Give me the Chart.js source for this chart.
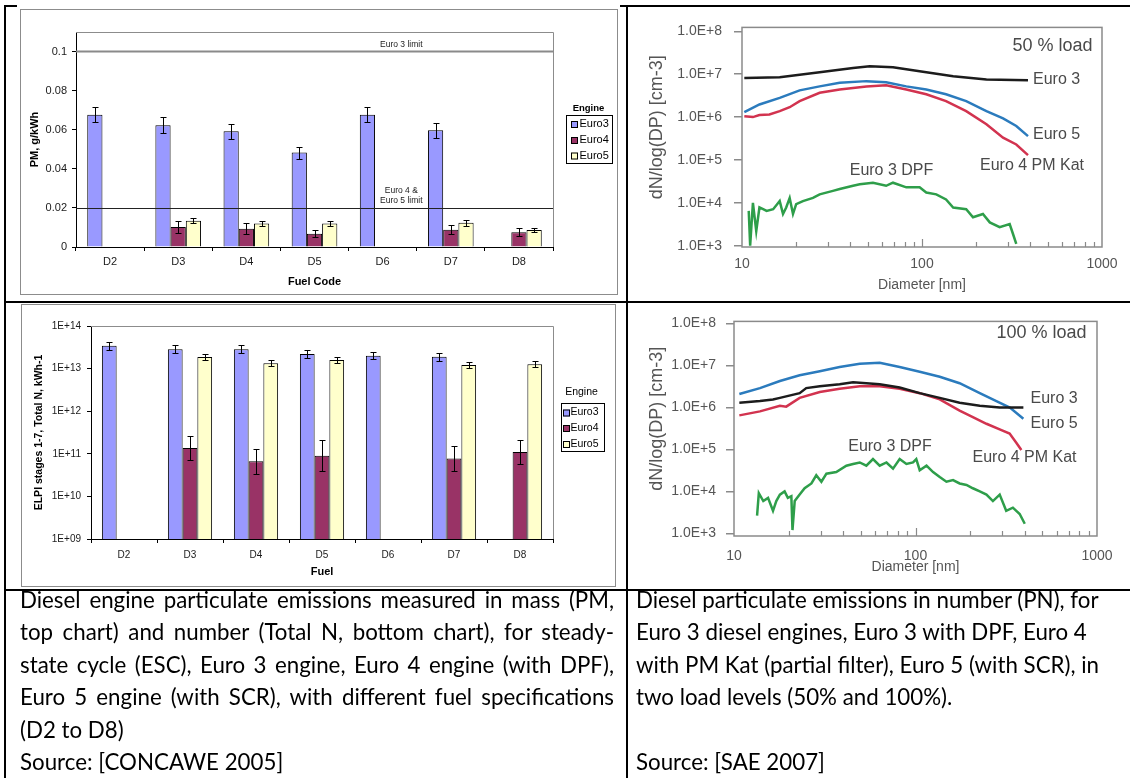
<!DOCTYPE html>
<html>
<head>
<meta charset="utf-8">
<script src="https://cdn.jsdelivr.net/npm/chart.js@4.4.1/dist/chart.umd.min.js"></script>
<style>
body { margin:0; background:#fff; width:1130px; height:778px; position:relative; overflow:hidden; }
.line { position:absolute; background:#000; }
.frame { position:absolute; border:1px solid #8c8c8c; box-sizing:border-box; }
canvas { position:absolute; }
.cap { position:absolute; font-family:Lato, "Open Sans", sans-serif; font-size:22.3px; color:#000; }
.cap div { height:32.4px; line-height:32.4px; }
.just { text-align:justify; text-align-last:justify; }
</style>
</head>
<body>
<div class="line" style="left:4px;top:5px;width:13px;height:2px"></div>
<div class="line" style="left:620px;top:5px;width:510px;height:2px"></div>
<div class="line" style="left:4px;top:5px;width:2px;height:773px"></div>
<div class="line" style="left:626px;top:5px;width:2px;height:773px"></div>
<div class="line" style="left:4px;top:301px;width:1126px;height:2px"></div>
<div class="line" style="left:4px;top:589px;width:1126px;height:2px"></div>

<div class="frame" style="left:20px;top:9px;width:598px;height:286px"></div>
<canvas id="c1" width="597" height="285" style="left:20px;top:9px"></canvas>
<div class="frame" style="left:21px;top:304px;width:595px;height:283px"></div>
<canvas id="c2" width="594" height="282" style="left:21px;top:304px"></canvas>
<canvas id="c3" width="502" height="293" style="left:628px;top:7px"></canvas>
<canvas id="c4" width="502" height="286" style="left:628px;top:303px"></canvas>

<div class="cap" style="left:20px;top:584px;width:594px">
  <div class="just">Diesel engine particulate emissions measured in mass (PM,</div>
  <div class="just">top chart) and number (Total N, bottom chart), for steady-</div>
  <div class="just">state cycle (ESC), Euro 3 engine, Euro 4 engine (with DPF),</div>
  <div class="just">Euro 5 engine (with SCR), with different fuel specifications</div>
  <div>(D2 to D8)</div>
  <div>Source: [CONCAWE 2005]</div>
</div>
<div class="cap" style="left:636px;top:584px;width:490px">
  <div>Diesel particulate emissions in number (PN), for</div>
  <div>Euro 3 diesel engines, Euro 3 with DPF, Euro 4</div>
  <div>with PM Kat (partial filter), Euro 5 (with SCR), in</div>
  <div>two load levels (50% and 100%).</div>
  <div>&nbsp;</div>
  <div>Source: [SAE 2007]</div>
</div>

<script>
// bar charts (CONCAWE 2005)
var fuels = ['D2', 'D3', 'D4', 'D5', 'D6', 'D7', 'D8'];
var engines = ['Euro3', 'Euro4', 'Euro5'];

var pmEuro3 = [0.0677, 0.0623, 0.0592, 0.0483, 0.0677, 0.0597, null];
var pmEuro4 = [null, 0.0102, 0.0094, 0.0068, null, 0.0088, 0.0076];
var pmEuro5 = [null, 0.0134, 0.0120, 0.0120, null, 0.0124, 0.0087];
var pmErr3 = [0.0040, 0.0041, 0.0038, 0.0031, 0.0040, 0.0037, null];
var pmErr4 = [null, 0.0029, 0.0027, 0.0019, null, 0.0024, 0.0021];
var pmErr5 = [null, 0.0012, 0.0014, 0.0014, null, 0.0014, 0.0009];
var pmTicks = [0, 0.02, 0.04, 0.06, 0.08, 0.1];
var pmLimits = [0.1, 0.02];

var nEuro3 = [3.45e13, 2.84e13, 2.84e13, 2.2e13, 2.0e13, 1.9e13, null];
var nEuro4 = [null, 1.37e11, 6.7e10, 9.0e10, null, 7.8e10, 1.1e11];
var nEuro5 = [null, 1.87e13, 1.33e13, 1.59e13, null, 1.22e13, 1.26e13];
var nErr3 = [1.25, 1.25, 1.25, 1.25, 1.22, 1.25, null];   // multiplicative
var nErr4 = [null, 1.95, 1.95, 2.3, null, 1.95, 1.95];
var nErr5 = [null, 1.18, 1.18, 1.18, null, 1.18, 1.18];
var nTicks = [1e9, 1e10, 1e11, 1e12, 1e13, 1e14];

// size distributions (SAE 2007)
var sizeSeries = ['Euro 3', 'Euro 5', 'Euro 4 PM Kat', 'Euro 3 DPF'];
var sizeTicks = [1e3, 1e4, 1e5, 1e6, 1e7, 1e8];
var diamTicks = [10, 100, 1000];
var diamMinor = [20, 30, 40, 50, 60, 70, 80, 90, 100, 200, 300, 400, 500, 600, 700, 800, 900];

var d50Black = [10.3, 16.2, 27, 41.4, 51.2, 69, 97, 149, 228, 388];
var v50Black = [8.2e6, 8.5e6, 1.11e7, 1.4e7, 1.53e7, 1.45e7, 1.17e7, 9.0e6, 7.5e6, 7.2e6];
var d50Blue = [10.3, 12.5, 16.2, 20.9, 27, 34.9, 49.1, 63.2, 81.8, 105.6, 136, 176, 228, 282, 334, 388];
var v50Blue = [1.3e6, 1.97e6, 2.8e6, 4.2e6, 5.2e6, 6.3e6, 6.9e6, 6.5e6, 5.2e6, 4.4e6, 3.4e6, 2.35e6, 1.38e6, 9.3e5, 6.2e5, 3.6e5];
var d50Red = [10.3, 11.5, 12.5, 14.2, 16.2, 18.4, 20.9, 27, 34.9, 49.1, 63.2, 81.8, 105.6, 136, 176, 228, 282, 334, 388];
var v50Red = [1.05e6, 1.0e6, 1.12e6, 1.15e6, 1.38e6, 1.7e6, 2.35e6, 3.7e6, 4.4e6, 5.2e6, 5.5e6, 4.4e6, 3.4e6, 2.35e6, 1.38e6, 6.8e5, 3.3e5, 2.3e5, 1.3e5];
var d50Green = [10.9, 11.1, 11.5, 12.0, 12.5, 13.1, 13.7, 14.9, 16.2, 16.9, 17.6, 18.4, 19.2, 20.0, 21.8, 24.8, 27, 32.0, 34.9, 41.4, 45.1, 53.4, 63.2, 69, 81.8, 97, 105.6, 120, 136, 149, 176, 192, 218, 238, 270, 307, 320, 334];
var v50Green = [6.5e3, 1.0e3, 1.0e4, 2.2e3, 7.8e3, 7.1e3, 6.5e3, 7.1e3, 1.1e4, 5.5e3, 7.8e3, 1.3e4, 5.5e3, 9.3e3, 1.1e4, 1.3e4, 1.58e4, 1.9e4, 2.1e4, 2.5e4, 2.7e4, 2.95e4, 2.5e4, 2.95e4, 2.3e4, 2.3e4, 1.74e4, 1.58e4, 1.2e4, 7.8e3, 7.1e3, 4.6e3, 5.5e3, 3.5e3, 2.7e3, 3.2e3, 1.9e3, 1.1e3];

var d100Black = [10.7, 13.9, 16.4, 17.9, 23, 25, 29.7, 38.2, 45.3, 63.5, 81.8, 105.5, 136, 175, 226, 291, 393];
var v100Black = [1.3e6, 1.43e6, 1.56e6, 1.7e6, 2.2e6, 2.9e6, 3.2e6, 3.6e6, 4.0e6, 3.6e6, 3.0e6, 2.2e6, 1.7e6, 1.3e6, 1.1e6, 1.0e6, 1.0e6];
var d100Blue = [10.7, 13.9, 17.9, 23, 29.7, 38.2, 49.3, 63.5, 81.8, 105.5, 136, 175, 226, 279, 331, 393];
var v100Blue = [2.1e6, 2.9e6, 4.3e6, 5.9e6, 7.3e6, 9.2e6, 1.1e7, 1.16e7, 9.2e6, 7.1e6, 5.4e6, 3.8e6, 2.2e6, 1.43e6, 1.0e6, 5.4e5];
var d100Red = [10.7, 13.9, 17.9, 19.4, 23, 29.7, 38.2, 49.3, 63.5, 81.8, 105.5, 136, 175, 207, 246, 291, 330, 360, 383];
var v100Red = [6.5e5, 8.1e5, 1.1e6, 1.05e6, 1.7e6, 2.35e6, 2.8e6, 3.2e6, 3.2e6, 2.8e6, 2.2e6, 1.56e6, 8.4e5, 5.9e5, 4.1e5, 3.0e5, 2.4e5, 1.43e5, 9.7e4];
var d100Green = [13.4, 13.7, 14.5, 15.4, 16.4, 17.1, 17.9, 19.0, 19.8, 20.7, 21.0, 21.6, 23.0, 24.5, 26.7, 28.4, 30.3, 32.3, 36.6, 41.6, 45.3, 49.3, 53.6, 58.3, 63.5, 69.2, 75.2, 81.8, 89.1, 96.9, 101, 105.5, 115, 125, 136, 148, 161, 175, 191, 207, 226, 246, 267, 291, 316, 344, 375, 400];
var v100Green = [2.65e3, 9.1e3, 5.9e3, 7.0e3, 3.45e3, 5.9e3, 8.4e3, 1.0e4, 7.0e3, 7.7e3, 1.2e3, 5.9e3, 8.4e3, 1.19e4, 1.55e4, 2.43e4, 1.7e4, 2.65e4, 2.9e4, 4.1e4, 4.5e4, 4.9e4, 4.1e4, 5.9e4, 4.1e4, 4.9e4, 3.5e4, 5.9e4, 4.5e4, 4.9e4, 5.9e4, 3.2e4, 4.1e4, 2.9e4, 2.2e4, 1.7e4, 1.86e4, 1.55e4, 1.43e4, 1.19e4, 1.0e4, 8.4e3, 5.9e3, 8.4e3, 3.45e3, 4.1e3, 2.9e3, 1.7e3];

Chart.defaults.font.family = '"Liberation Sans", Arial, sans-serif';

function pts(xs, ys) {
    return xs.map(function(x, i) { return {x: x, y: ys[i]}; });
}

var errorBars = {
    id: 'errorBars',
    afterDatasetsDraw: function(chart) {
        var ctx = chart.ctx;
        var yScale = chart.scales.y;
        ctx.save();
        ctx.strokeStyle = '#000';
        ctx.lineWidth = 1;
        chart.data.datasets.forEach(function(ds, i) {
            var meta = chart.getDatasetMeta(i);
            meta.data.forEach(function(bar, j) {
                var v = ds.data[j], e = ds.errors[j];
                if (v == null || e == null) return;
                var lo = ds.errFactor ? v / e : v - e;
                var hi = ds.errFactor ? v * e : v + e;
                var x = Math.round(bar.x) + 0.5;
                var y1 = Math.round(yScale.getPixelForValue(lo)) + 0.5;
                var y2 = Math.round(yScale.getPixelForValue(hi)) + 0.5;
                ctx.beginPath();
                ctx.moveTo(x, y1); ctx.lineTo(x, y2);
                ctx.moveTo(x - 3, y1); ctx.lineTo(x + 3, y1);
                ctx.moveTo(x - 3, y2); ctx.lineTo(x + 3, y2);
                ctx.stroke();
            });
        });
        ctx.restore();
    }
};

var plotBorder = {
    id: 'plotBorder',
    beforeDatasetsDraw: function(chart) {
        var a = chart.chartArea, ctx = chart.ctx;
        ctx.save();
        ctx.strokeStyle = '#8c8c8c';
        ctx.lineWidth = 1;
        ctx.beginPath();
        ctx.moveTo(a.left, Math.round(a.top) + 0.5);
        ctx.lineTo(Math.round(a.right) + 0.5, Math.round(a.top) + 0.5);
        ctx.lineTo(Math.round(a.right) + 0.5, a.bottom);
        ctx.stroke();
        ctx.restore();
    }
};

function excelLegend(o) {
    return {
        id: 'excelLegend',
        afterDraw: function(chart) {
            var ctx = chart.ctx;
            ctx.save();
            ctx.strokeStyle = '#000';
            ctx.lineWidth = 1;
            ctx.strokeRect(o.x + 0.5, o.y + 0.5, o.w, o.h);
            ctx.fillStyle = '#000';
            ctx.font = o.titleFont;
            ctx.textAlign = 'center';
            ctx.textBaseline = 'middle';
            ctx.fillText('Engine', o.titleX, o.titleY);
            ctx.font = o.itemFont;
            ctx.textAlign = 'left';
            chart.data.datasets.forEach(function(ds, i) {
                var cy = o.itemY[i];
                ctx.fillStyle = ds.backgroundColor;
                ctx.fillRect(o.swX, cy - 3, 7, 7);
                ctx.strokeRect(o.swX + 0.5, cy - 2.5, 6, 6);
                ctx.fillStyle = '#000';
                ctx.fillText(ds.label, o.textX, cy);
            });
            ctx.restore();
        }
    };
}

var limitLines = {
    id: 'limitLines',
    afterDatasetsDraw: function(chart) {
        var a = chart.chartArea, ctx = chart.ctx, ys = chart.scales.y;
        var y1 = ys.getPixelForValue(pmLimits[0]);
        var y2 = Math.round(ys.getPixelForValue(pmLimits[1])) + 0.5;
        ctx.save();
        ctx.strokeStyle = '#8a8a8a';
        ctx.lineWidth = 2;
        ctx.beginPath(); ctx.moveTo(a.left, y1); ctx.lineTo(a.right, y1); ctx.stroke();
        ctx.strokeStyle = '#222';
        ctx.lineWidth = 1;
        ctx.beginPath(); ctx.moveTo(a.left, y2); ctx.lineTo(a.right, y2); ctx.stroke();
        var tx = a.left + 0.682 * (a.right - a.left);
        ctx.fillStyle = '#222';
        ctx.font = '8.5px "Liberation Sans", Arial, sans-serif';
        ctx.textAlign = 'center';
        ctx.textBaseline = 'middle';
        ctx.fillText('Euro 3 limit', tx, y1 - 7);
        ctx.fillText('Euro 4 &', tx, y2 - 18);
        ctx.fillText('Euro 5 limit', tx, y2 - 8);
        ctx.restore();
    }
};

function barOptions(o) {
    return {
        responsive: false,
        animation: false,
        layout: {padding: {left: 0, top: o.top, right: o.right, bottom: 0}},
        datasets: {bar: {categoryPercentage: 0.67, barPercentage: 1, borderColor: '#000', borderWidth: 1}},
        plugins: {legend: {display: false}, tooltip: {enabled: false}},
        scales: {
            x: {
                grid: {offset: true, drawOnChartArea: false, tickLength: 4, color: '#000'},
                border: {color: '#000'},
                ticks: {color: '#1a1a1a', font: {size: o.xFont}, padding: o.xPad, maxRotation: 0},
                title: {display: true, text: o.xTitle, color: '#000', font: {size: 11, weight: 'bold'}, padding: {top: 0, bottom: o.xTitlePad}},
                afterFit: function(s) { s.height = o.xHeight; }
            },
            y: o.y
        }
    };
}

new Chart(document.getElementById('c1'), {
    type: 'bar',
    data: {
        labels: fuels,
        datasets: [
            {label: engines[0], data: pmEuro3, errors: pmErr3, backgroundColor: '#9999ff'},
            {label: engines[1], data: pmEuro4, errors: pmErr4, backgroundColor: '#993366'},
            {label: engines[2], data: pmEuro5, errors: pmErr5, backgroundColor: '#ffffcc'}
        ]
    },
    options: barOptions({
        top: 23, right: 64, xFont: 11, xPad: 4, xTitle: 'Fuel Code', xTitlePad: 5, xHeight: 47,
        y: {
            min: 0, max: 0.11,
            afterBuildTicks: function(s) { s.ticks = pmTicks.map(function(v) { return {value: v}; }); },
            grid: {drawOnChartArea: false, tickLength: 4, color: '#000'},
            border: {color: '#000'},
            ticks: {color: '#1a1a1a', font: {size: 11}, padding: 5, callback: function(v) { return String(v); }},
            title: {display: true, text: 'PM, g/kWh', color: '#000', font: {size: 11, weight: 'bold'}, padding: {top: 8, bottom: 0}},
            afterFit: function(s) { s.width = 56; }
        }
    }),
    plugins: [plotBorder, errorBars, limitLines, excelLegend({
        x: 546, y: 106, w: 46, h: 48, titleX: 568.5, titleY: 99.5,
        titleFont: 'bold 9.5px "Liberation Sans", Arial, sans-serif',
        itemFont: '11px "Liberation Sans", Arial, sans-serif',
        itemY: [115, 131, 146.5], swX: 551, textX: 559.5
    })]
});

new Chart(document.getElementById('c2'), {
    type: 'bar',
    data: {
        labels: fuels,
        datasets: [
            {label: engines[0], data: nEuro3, errors: nErr3, errFactor: true, backgroundColor: '#9999ff'},
            {label: engines[1], data: nEuro4, errors: nErr4, errFactor: true, backgroundColor: '#993366'},
            {label: engines[2], data: nEuro5, errors: nErr5, errFactor: true, backgroundColor: '#ffffcc'}
        ]
    },
    options: barOptions({
        top: 22, right: 62, xFont: 10, xPad: 6, xTitle: 'Fuel', xTitlePad: 7.5, xHeight: 47,
        y: {
            type: 'logarithmic', min: 1e9, max: 1e14,
            afterBuildTicks: function(s) { s.ticks = nTicks.map(function(v) { return {value: v}; }); },
            grid: {drawOnChartArea: false, tickLength: 4, color: '#000'},
            border: {color: '#000'},
            ticks: {color: '#1a1a1a', font: {size: 10}, padding: 6, callback: function(v) {
                var e = Math.round(Math.log10(v));
                return '1E+' + (e < 10 ? '0' + e : e);
            }},
            title: {display: true, text: 'ELPI stages 1-7, Total N, kWh-1', color: '#000', font: {size: 10.5, weight: 'bold'}, padding: {top: 12, bottom: 0}},
            afterFit: function(s) { s.width = 70; }
        }
    }),
    plugins: [plotBorder, errorBars, excelLegend({
        x: 540, y: 99, w: 43, h: 48, titleX: 560.5, titleY: 88.5,
        titleFont: '10.5px "Liberation Sans", Arial, sans-serif',
        itemFont: '10.5px "Liberation Sans", Arial, sans-serif',
        itemY: [108.5, 124, 140], swX: 542, textX: 549.5
    })]
});

function sizeDecor(notes) {
    return {
        id: 'sizeDecor',
        beforeDatasetsDraw: function(chart) {
            var a = chart.chartArea, ctx = chart.ctx, xs = chart.scales.x;
            ctx.save();
            ctx.strokeStyle = '#8a8a8a';
            ctx.lineWidth = 1.5;
            ctx.strokeRect(a.left, a.top, a.right - a.left, a.bottom - a.top);
            ctx.lineWidth = 1.2;
            ctx.beginPath();
            diamMinor.forEach(function(d) {
                var x = Math.round(xs.getPixelForValue(d)) + 0.5;
                var len = d === 100 ? 8 : 5;
                ctx.moveTo(x, a.bottom); ctx.lineTo(x, a.bottom - len);
            });
            ctx.stroke();
            ctx.restore();
        },
        afterDraw: function(chart) {
            var ctx = chart.ctx;
            ctx.save();
            ctx.fillStyle = '#4a4a4a';
            ctx.textBaseline = 'middle';
            notes.forEach(function(n) {
                ctx.font = n.size + 'px "Liberation Sans", Arial, sans-serif';
                ctx.textAlign = n.align;
                ctx.fillText(n.text, n.x, n.y);
            });
            ctx.restore();
        }
    };
}

function sizeChart(id, o, series) {
    var colors = ['#1c1c1c', '#2b7bbd', '#d2334f', '#2e9e4a'];
    new Chart(document.getElementById(id), {
        type: 'line',
        data: {
            datasets: series.map(function(s, i) {
                return {label: sizeSeries[i], data: pts(s[0], s[1]), borderColor: colors[i], borderWidth: 2.5};
            })
        },
        options: {
            responsive: false,
            animation: false,
            elements: {point: {radius: 0}, line: {tension: 0}},
            layout: {padding: {left: 0, top: o.top, right: o.right, bottom: 0}},
            plugins: {legend: {display: false}, tooltip: {enabled: false}},
            scales: {
                x: {
                    type: 'logarithmic', min: 10, max: 1000,
                    afterBuildTicks: function(s) { s.ticks = diamTicks.map(function(v) { return {value: v}; }); },
                    grid: {display: false, drawTicks: false},
                    border: {display: false},
                    ticks: {color: '#555', font: {size: 14}, padding: o.xPad, maxRotation: 0, callback: function(v) { return String(v); }},
                    title: {display: true, text: 'Diameter [nm]', color: '#555', font: {size: 14}, padding: {top: 0, bottom: o.xTitlePad}},
                    afterFit: function(s) { s.height = o.xHeight; }
                },
                y: {
                    type: 'logarithmic', min: o.yMin, max: o.yMax,
                    afterBuildTicks: function(s) { s.ticks = sizeTicks.map(function(v) { return {value: v}; }); },
                    grid: {drawOnChartArea: false, tickLength: 8, color: '#8a8a8a', lineWidth: 1.5},
                    border: {display: false},
                    ticks: {color: '#555', font: {size: 14}, padding: o.yPad, callback: function(v) {
                        return '1.0E+' + Math.round(Math.log10(v));
                    }},
                    // leading spaces lift the rotated title a little, as in the source
                    title: {display: true, text: '\u00a0\u00a0\u00a0\u00a0dN/log(DP) [cm-3]', color: '#555', font: {size: 18}, padding: {top: 18, bottom: 0}},
                    afterFit: function(s) { s.width = o.yWidth; }
                }
            }
        },
        plugins: [sizeDecor(o.notes)]
    });
}

sizeChart('c3', {
    top: 18, right: 28, xPad: 9, xTitlePad: 6.5, xHeight: 53, yPad: 12, yWidth: 114,
    yMin: Math.pow(10, 2.97), yMax: Math.pow(10, 8.092),
    notes: [
        {text: '50 % load', x: 464.5, y: 39, align: 'right', size: 18},
        {text: 'Euro 3', x: 405, y: 72.5, align: 'left', size: 16},
        {text: 'Euro 5', x: 405, y: 127.5, align: 'left', size: 16},
        {text: 'Euro 4 PM Kat', x: 352, y: 158.5, align: 'left', size: 16},
        {text: 'Euro 3 DPF', x: 263.5, y: 163.5, align: 'center', size: 16}
    ]
}, [[d50Black, v50Black], [d50Blue, v50Blue], [d50Red, v50Red], [d50Green, v50Green]]);

sizeChart('c4', {
    top: 12, right: 33, xPad: 12, xTitlePad: 13, xHeight: 53, yPad: 10, yWidth: 106,
    yMin: Math.pow(10, 2.9375), yMax: Math.pow(10, 8.053),
    notes: [
        {text: '100 % load', x: 458.5, y: 30.5, align: 'right', size: 18},
        {text: 'Euro 3', x: 402.5, y: 96, align: 'left', size: 16},
        {text: 'Euro 5', x: 402.5, y: 121, align: 'left', size: 16},
        {text: 'Euro 4 PM Kat', x: 344.5, y: 154.5, align: 'left', size: 16},
        {text: 'Euro 3 DPF', x: 262, y: 144, align: 'center', size: 16}
    ]
}, [[d100Black, v100Black], [d100Blue, v100Blue], [d100Red, v100Red], [d100Green, v100Green]]);
</script>
</body>
</html>
